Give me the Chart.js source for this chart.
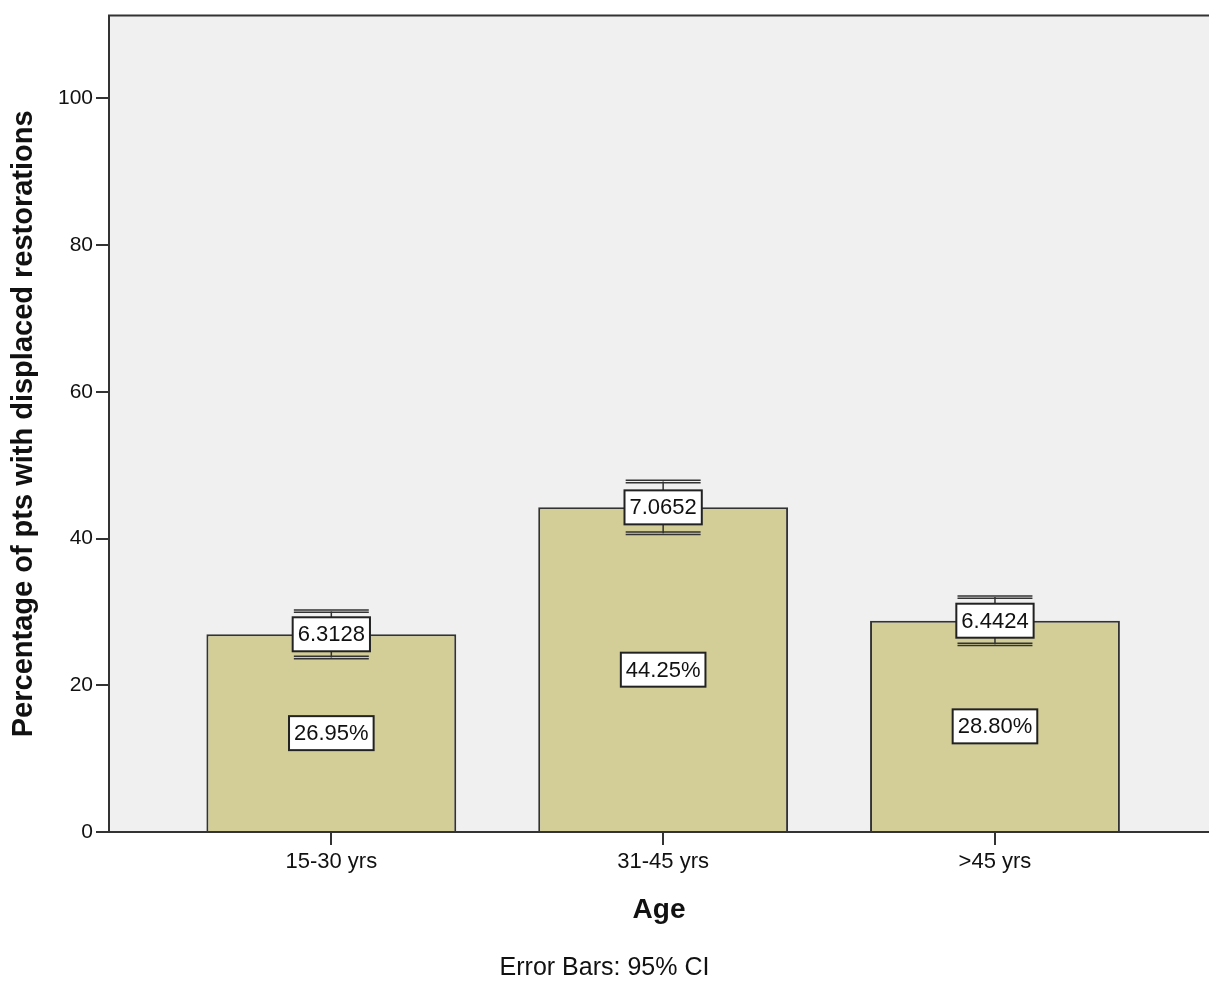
<!DOCTYPE html>
<html>
<head>
<meta charset="utf-8">
<script src="https://cdn.jsdelivr.net/npm/chart.js@4.4.1/dist/chart.umd.min.js"></script>
<style>
  html, body { margin: 0; padding: 0; background: #fff; }
  #wrap { width: 1209px; height: 981px; position: relative; }
</style>
</head>
<body>
<div id="wrap"><canvas id="chartAge"></canvas></div>
<script>
// values
const categories = ['15-30 yrs', '31-45 yrs', '>45 yrs'];
const percentages = [26.95, 44.25, 28.80];
const ciWidths = [6.3128, 7.0652, 6.4424];   // full width of the 95% CI
const yTicks = [0, 20, 40, 60, 80, 100];

const FONT = '"Liberation Sans", Arial, sans-serif';
const DARK = '#333333';

const plotBackground = {
    id: 'plotBackground',
    beforeDraw(chart) {
        const { ctx, chartArea: a } = chart;
        ctx.save();
        ctx.fillStyle = '#F0F0F0';
        ctx.fillRect(a.left, a.top, a.right - a.left, a.bottom - a.top);
        ctx.restore();
    },
    afterDraw(chart) {
        // frame line along the top of the plot
        const { ctx, chartArea: a } = chart;
        ctx.save();
        ctx.strokeStyle = DARK;
        ctx.lineWidth = 2;
        ctx.beginPath();
        ctx.moveTo(a.left - 1, a.top);
        ctx.lineTo(a.right, a.top);
        ctx.stroke();
        ctx.restore();
    }
};

function labelBox(ctx, text, x, y) {
    ctx.font = '22px ' + FONT;
    const w = ctx.measureText(text).width + 10;
    const h = 34;
    ctx.fillStyle = '#fff';
    ctx.fillRect(x - w / 2, y - h / 2, w, h);
    ctx.strokeStyle = '#222';
    ctx.lineWidth = 2;
    ctx.strokeRect(x - w / 2, y - h / 2, w, h);
    ctx.fillStyle = '#111';
    ctx.textAlign = 'center';
    ctx.textBaseline = 'middle';
    ctx.fillText(text, x, y + 1);
}

const errorBars = {
    id: 'errorBars',
    afterDatasetsDraw(chart) {
        const { ctx } = chart;
        const yScale = chart.scales.y;
        const meta = chart.getDatasetMeta(0);
        ctx.save();
        meta.data.forEach((bar, i) => {
            const half = ciWidths[i] / 2;
            const hi = yScale.getPixelForValue(percentages[i] + half);
            const lo = yScale.getPixelForValue(percentages[i] - half);
            const capHalf = bar.width * 0.15;
            ctx.strokeStyle = DARK;
            ctx.lineWidth = 1.5;
            ctx.beginPath();
            ctx.moveTo(bar.x, hi);
            ctx.lineTo(bar.x, lo);
            [hi, lo].forEach(p => {
                [-1.2, 1.2].forEach(d => {
                    ctx.moveTo(bar.x - capHalf, p + d);
                    ctx.lineTo(bar.x + capHalf, p + d);
                });
            });
            ctx.stroke();

            labelBox(ctx, ciWidths[i].toFixed(4), bar.x, yScale.getPixelForValue(percentages[i]));
            labelBox(ctx, percentages[i].toFixed(2) + '%', bar.x, yScale.getPixelForValue(percentages[i] / 2));
        });
        ctx.restore();
    }
};

const ctx = document.getElementById('chartAge').getContext('2d');
const chart = new Chart(ctx, {
    type: 'bar',
    data: {
        datasets: [{
            data: categories.map((c, i) => ({ x: i, y: percentages[i] })),
            backgroundColor: '#D3CE98',
            borderColor: DARK,
            borderWidth: 2,
            barPercentage: 0.753,
            categoryPercentage: 1
        }]
    },
    options: {
        responsive: true,
        maintainAspectRatio: false,
        animation: false,
        layout: { padding: { top: 13, left: 0, right: 0, bottom: 0 } },
        plugins: {
            legend: { display: false },
            tooltip: { enabled: false },
            title: {
                display: true,
                position: 'bottom',
                text: 'Error Bars: 95% CI',
                color: '#111',
                font: { family: FONT, size: 25, weight: 'normal', lineHeight: 1.0 },
                padding: { top: 0, bottom: 0 }
            }
        },
        scales: {
            x: {
                type: 'linear',
                offset: false,
                min: -0.67,
                max: 2.645,
                afterBuildTicks: s => { s.ticks = categories.map((c, i) => ({ value: i })); },
                afterFit: s => { s.height = 124; },
                ticks: {
                    callback: v => categories[v],
                    color: '#111',
                    font: { family: FONT, size: 22 },
                    padding: 4,
                    maxRotation: 0,
                    autoSkip: false
                },
                grid: { offset: false, drawOnChartArea: false, drawTicks: true, tickLength: 13, color: DARK, lineWidth: 2 },
                border: { color: DARK, width: 2 },
                title: {
                    display: true,
                    text: 'Age',
                    color: '#111',
                    font: { family: FONT, size: 28, weight: 'bold' },
                    padding: { top: 0, bottom: 29 }
                }
            },
            y: {
                min: 0,
                max: 111.28,
                afterBuildTicks: s => { s.ticks = yTicks.map(v => ({ value: v })); },
                afterFit: s => { s.width = 109; },
                ticks: {
                    color: '#111',
                    font: { family: FONT, size: 21 },
                    padding: 3
                },
                grid: { drawOnChartArea: false, drawTicks: true, tickLength: 13, color: DARK, lineWidth: 2 },
                border: { color: DARK, width: 2 },
                title: {
                    display: true,
                    text: 'Percentage of pts with displaced restorations',
                    color: '#111',
                    font: { family: FONT, size: 29, weight: 'bold' },
                    padding: { top: 7, bottom: 0 }
                }
            }
        }
    },
    plugins: [plotBackground, errorBars]
});
</script>
</body>
</html>
